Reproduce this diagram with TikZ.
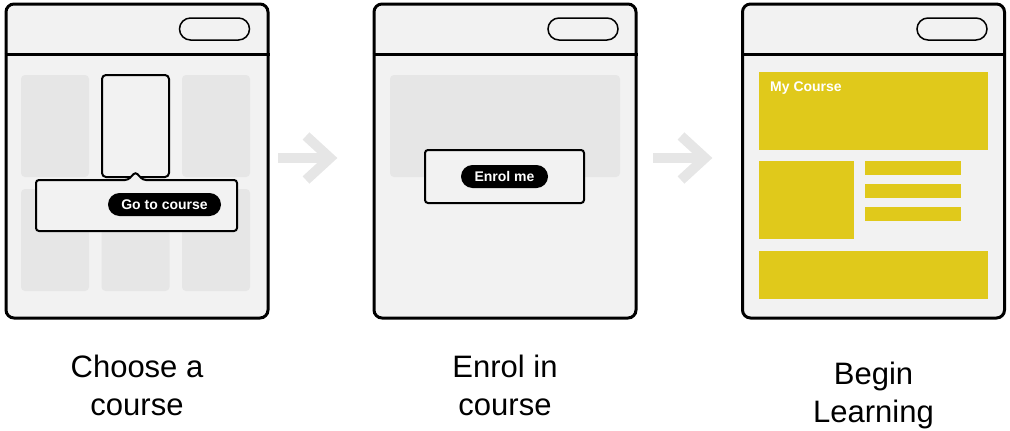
\documentclass[tikz,border=0pt]{standalone}
\usepackage{fontspec}
\setmainfont{Liberation Sans}
\usepackage{tikz}
\usetikzlibrary{positioning}
\definecolor{pagegray}{HTML}{F2F2F2}
\definecolor{cardgray}{HTML}{E6E6E6}
\definecolor{courseyellow}{HTML}{E0C91B}
\begin{document}
\begin{tikzpicture}[x=1pt,y=-1pt]
\tikzstyle{window}=[rectangle,draw=black,fill=pagegray,line width=3pt,rounded corners=8pt,
minimum width=262pt,minimum height=314pt,inner sep=0pt]
\tikzstyle{pill}=[rectangle,draw=black,fill=pagegray,line width=1.5pt,rounded corners=11pt,
minimum width=70pt,minimum height=22pt,inner sep=0pt]
\tikzstyle{card}=[rectangle,fill=cardgray,rounded corners=4pt,minimum width=68pt,minimum height=102pt,inner sep=0pt]
\tikzstyle{popup}=[draw=black,fill=pagegray,line width=2pt,rounded corners=3pt]
\tikzstyle{button}=[rectangle,fill=black,text=white,font=\fontsize{14}{14}\selectfont\bfseries,
rounded corners=11.5pt,minimum height=23pt,inner sep=0pt]
\tikzstyle{block}=[rectangle,fill=courseyellow,inner sep=0pt]
\tikzstyle{flow}=[draw=cardgray,line width=10pt]
\tikzstyle{caption}=[align=center,font=\fontsize{31}{38}\selectfont,inner sep=0pt]
\useasboundingbox (0,0) rectangle (1010,431);
% the three screens
\node[window] (win1) at (137,161) {};
\node[window] (win2) at (505,161) {};
\node[window] (win3) at (873.5,161) {};
\foreach \w in {win1,win2,win3}
  \draw[line width=3pt] (\w.west |- 0,54) -- (\w.east |- 0,54);
\node[pill] (search1) at (214.5,29) {};
\node[pill] (search2) at (583,29) {};
\node[pill] (search3) at (952,29) {};
% screen 1: course list
\foreach \cx/\col in {55/a,135.5/b,216/c}
  \foreach \cy/\row in {126/1,240/2}
    \node[card] (card\col\row) at (\cx,\cy) {};
\node[card,draw=black,fill=pagegray,line width=2pt,minimum width=67pt] (chosen) at (135.5,126) {};
\filldraw[popup] (80,231) -- (36,231) -- (36,180) -- (128,180) -- (135.5,172) -- (143,180)
  -- (237,180) -- (237,231) -- cycle;
\node[button,minimum width=113pt] (goto) at (164.5,204.5) {Go to course};
% screen 2: enrolment
\node[card,minimum width=230pt] (hero) at (505,126) {};
\node[rectangle,popup,minimum width=159pt,minimum height=53pt,inner sep=0pt] (dialog) at (504.5,176.5) {};
\node[button,minimum width=87pt] (enrol) at (dialog.center) {Enrol me};
% screen 3: course page
\node[block,minimum width=229pt,minimum height=78pt] (banner) at (873.5,111) {};
\node[anchor=base west,inner sep=0pt,text=white,font=\fontsize{14}{14}\selectfont\bfseries] (title) at (770,91) {My Course};
\node[block,minimum width=95pt,minimum height=78pt] (thumb) at (806.5,200) {};
\foreach \by/\n in {168/1,191/2,214/3}
  \node[block,minimum width=96pt,minimum height=14pt] (line\n) at (913,\by) {};
\node[block,minimum width=229pt,minimum height=48pt] (footer) at (873.5,275) {};
% arrows between screens
\coordinate (from1) at (278,158);
\coordinate (tip1) at (330,158);
\coordinate (from2) at (653,158);
\coordinate (tip2) at (705,158);
\foreach \a in {1,2} {
  \draw[flow] (from\a) -- (tip\a);
  \draw[flow] ([shift={(-24,-22)}]tip\a) -- (tip\a) -- ([shift={(-24,22)}]tip\a);
}
% captions
\node[caption] (step1) [below=35.5pt of win1] {Choose a\\course};
\node[caption] (step2) [below=35.5pt of win2] {Enrol in\\course};
\node[caption] (step3) [below=42pt of win3] {Begin\\Learning};
\end{tikzpicture}
\end{document}
